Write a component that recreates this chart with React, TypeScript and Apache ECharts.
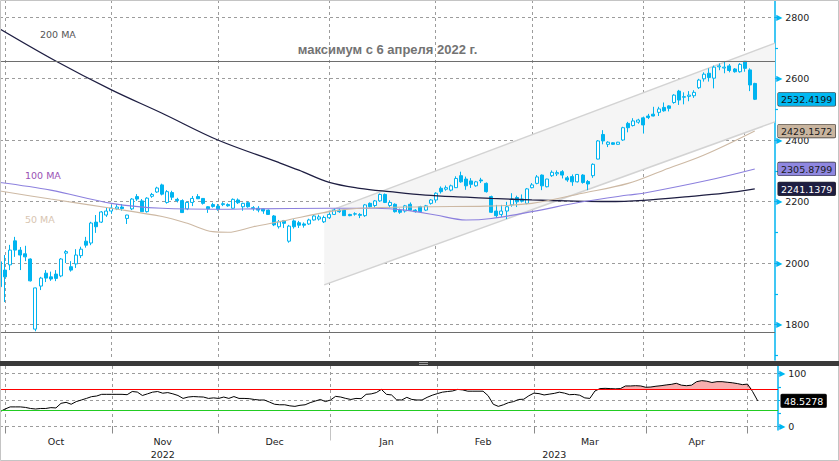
import React, { useEffect, useRef } from 'react';
import * as echarts from 'echarts';

// ---- trading days (category axis) ----
const sepDays = [30];
const octDays = [3, 4, 5, 6, 7, 10, 11, 12, 13, 14, 17, 18, 19, 20, 21, 24, 25, 26, 27, 28, 31];
const novDays = [1, 2, 3, 7, 8, 9, 10, 11, 14, 15, 16, 17, 18, 21, 22, 23, 24, 25, 28, 29, 30];
const decDays = [1, 2, 5, 6, 7, 8, 9, 12, 13, 14, 15, 16, 19, 20, 21, 22, 23, 26, 27, 28, 29, 30];
const janDays = [3, 4, 5, 6, 9, 10, 11, 12, 13, 16, 17, 18, 19, 20, 23, 24, 25, 26, 27, 30, 31];
const febDays = [1, 2, 3, 6, 7, 8, 9, 10, 13, 14, 15, 16, 17, 20, 21, 22, 24, 27, 28];
const marDays = [1, 2, 3, 6, 7, 9, 10, 13, 14, 15, 16, 17, 20, 21, 22, 23, 24, 27, 28, 29, 30, 31];
const aprDays = [3, 4, 5, 6, 7, 10, 11, 12, 13, 14, 17, 18, 19, 20, 21, 24, 25, 26, 27, 28];
const mayDays = [2, 3, 4];
const padDays = [5, 10, 11, 12]; // empty slots on the right (May 2023)

const monthNames = ['Oct', 'Nov', 'Dec', 'Jan', 'Feb', 'Mar', 'Apr'];
const monthLabelIdx = [11, 32, 54, 76, 95, 116, 137];
const yearLabels = ['2022', '2023'];
const yearLabelIdx = [32, 109];
const yearSplitIdx = 65;

// ---- OHLC: [open, close, low, high] ----
const candles: number[][] = [
  [2004, 1923, 1915, 2010], [1977, 1955, 1873, 2026], [1994, 2042, 1977, 2059], [2072, 2042, 2020, 2085],
  [2042, 2026, 1977, 2052], [2030, 2020, 2006, 2056], [2013, 1942, 1940, 2015], [1785, 1919, 1778, 1920],
  [1925, 1951, 1912, 1955], [1967, 1951, 1938, 1977], [1955, 1948, 1942, 1972], [1964, 1950, 1941, 1977],
  [1958, 2013, 1954, 2016], [2032, 2037, 2000, 2042], [1988, 1977, 1972, 2006], [1997, 2026, 1984, 2045],
  [2024, 2045, 2016, 2053], [2071, 2058, 2050, 2085], [2065, 2130, 2058, 2134], [2133, 2118, 2098, 2156],
  [2133, 2166, 2130, 2169], [2156, 2169, 2150, 2179], [2169, 2179, 2160, 2189], [2176, 2182, 2172, 2192],
  [2182, 2177, 2170, 2192], [2145, 2156, 2127, 2157], [2176, 2208, 2172, 2211], [2216, 2208, 2202, 2224],
  [2202, 2167, 2166, 2208], [2167, 2211, 2164, 2214], [2217, 2223, 2212, 2228], [2231, 2244, 2228, 2248],
  [2254, 2224, 2220, 2258], [2197, 2232, 2193, 2237], [2229, 2214, 2205, 2235], [2207, 2203, 2197, 2212],
  [2203, 2164, 2163, 2207], [2176, 2197, 2172, 2200], [2197, 2210, 2185, 2218], [2216, 2209, 2208, 2224],
  [2210, 2194, 2190, 2211], [2183, 2176, 2163, 2185], [2190, 2184, 2180, 2196], [2185, 2175, 2170, 2192],
  [2190, 2193, 2185, 2198], [2190, 2186, 2183, 2194], [2178, 2207, 2177, 2210], [2205, 2196, 2192, 2210],
  [2183, 2194, 2170, 2196], [2196, 2183, 2180, 2200], [2180, 2177, 2170, 2185], [2178, 2172, 2165, 2185],
  [2176, 2169, 2160, 2177], [2172, 2158, 2157, 2174], [2153, 2124, 2120, 2156], [2118, 2134, 2112, 2140],
  [2138, 2129, 2114, 2140], [2071, 2120, 2066, 2124], [2137, 2118, 2112, 2142], [2131, 2123, 2114, 2137],
  [2127, 2123, 2115, 2132], [2127, 2140, 2124, 2144], [2140, 2153, 2138, 2157], [2143, 2150, 2138, 2157],
  [2134, 2148, 2130, 2154], [2147, 2158, 2143, 2165], [2158, 2172, 2156, 2177], [2172, 2167, 2163, 2177],
  [2172, 2154, 2154, 2175], [2158, 2154, 2152, 2160], [2160, 2159, 2154, 2165], [2158, 2155, 2146, 2162],
  [2154, 2189, 2150, 2192], [2194, 2183, 2180, 2197], [2187, 2202, 2180, 2205], [2202, 2223, 2199, 2226],
  [2223, 2197, 2195, 2226], [2187, 2197, 2180, 2204], [2191, 2167, 2164, 2194], [2172, 2165, 2160, 2177],
  [2169, 2186, 2164, 2189], [2191, 2172, 2169, 2197], [2172, 2167, 2164, 2175], [2183, 2167, 2164, 2186],
  [2172, 2186, 2169, 2189], [2194, 2205, 2190, 2208], [2205, 2227, 2196, 2230], [2243, 2232, 2226, 2249],
  [2240, 2245, 2235, 2252], [2237, 2251, 2233, 2255], [2245, 2275, 2244, 2282], [2284, 2264, 2261, 2297],
  [2273, 2251, 2238, 2281], [2267, 2256, 2244, 2276], [2251, 2264, 2248, 2267], [2270, 2267, 2260, 2277],
  [2259, 2232, 2229, 2262], [2216, 2165, 2163, 2219], [2169, 2154, 2147, 2189], [2158, 2169, 2150, 2189],
  [2169, 2183, 2143, 2199], [2189, 2208, 2183, 2227], [2213, 2199, 2182, 2219], [2208, 2201, 2197, 2223],
  [2194, 2241, 2191, 2244], [2245, 2254, 2243, 2260], [2259, 2280, 2256, 2286], [2286, 2251, 2237, 2288],
  [2248, 2273, 2246, 2274], [2284, 2295, 2280, 2301], [2290, 2294, 2283, 2301], [2297, 2286, 2275, 2302],
  [2277, 2270, 2264, 2283], [2281, 2264, 2251, 2288], [2264, 2288, 2262, 2289], [2286, 2262, 2258, 2289],
  [2265, 2257, 2237, 2270], [2284, 2321, 2277, 2324], [2338, 2397, 2337, 2400], [2418, 2397, 2386, 2432],
  [2386, 2393, 2377, 2396], [2391, 2386, 2384, 2393], [2386, 2393, 2385, 2394], [2400, 2440, 2397, 2443],
  [2454, 2440, 2425, 2459], [2447, 2462, 2444, 2471], [2458, 2465, 2453, 2469], [2472, 2449, 2421, 2476],
  [2478, 2473, 2468, 2485], [2484, 2478, 2477, 2508], [2490, 2501, 2478, 2508], [2506, 2495, 2492, 2522],
  [2511, 2503, 2493, 2513], [2522, 2546, 2518, 2549], [2559, 2530, 2514, 2563], [2539, 2541, 2516, 2555],
  [2542, 2546, 2526, 2559], [2544, 2555, 2537, 2562], [2570, 2595, 2566, 2599], [2599, 2614, 2590, 2620],
  [2617, 2603, 2590, 2633], [2601, 2637, 2568, 2642], [2638, 2641, 2627, 2649], [2634, 2637, 2617, 2657],
  [2641, 2626, 2620, 2647], [2631, 2622, 2619, 2634], [2622, 2646, 2619, 2650], [2656, 2633, 2622, 2657],
  [2628, 2579, 2559, 2633], [2584, 2532.4199, 2530, 2586],
];

// ---- moving averages: [category index, value] ----
const ma50Pts = [
  [0, 2234], [10, 2208], [22, 2178], [32, 2151], [37, 2129], [42, 2102], [45, 2100], [50, 2118], [56, 2137],
  [65, 2167], [71, 2178], [84, 2183], [96, 2185], [105, 2194], [115, 2227], [124, 2259], [131, 2302],
  [139, 2351], [149, 2429.1572],
];
const ma100Pts = [
  [0, 2262], [10, 2237], [22, 2194], [32, 2178], [44, 2175], [50, 2176], [65, 2178], [74, 2178], [80, 2172],
  [86, 2156], [92, 2140], [97, 2145], [105, 2167], [115, 2199], [124, 2221], [127, 2227], [140, 2270],
  [149, 2305.8799],
];
const ma200Pts = [
  [0, 2761], [11, 2657], [22, 2563], [32, 2487], [43, 2400], [55, 2327], [59, 2302], [65, 2262], [71, 2243],
  [77, 2232], [84, 2221], [92, 2214], [97, 2210], [105, 2205], [112, 2202], [120, 2200], [127, 2204],
  [136, 2216], [143, 2227], [149, 2241.1379],
];

// ---- trend channel ----
const chanLower = [[64, 1929], [153, 2459]];
const chanUpper = [[64, 2163], [153, 2715]];

// ---- horizontal levels ----
const maxLevel = 2657;
const minLevel = 1776;
const maxLabel = 'максимум с 6 апреля 2022 г.';

// ---- RSI ----
const rsi = [
  28, 33, 37, 37, 37, 36, 34, 33, 34, 34,
  35.6, 35, 43.7, 45.6, 42, 47, 50, 53, 56.3, 57.5,
  60.7, 60.7, 60.7, 60.7, 60.7, 60, 66, 65, 58.5, 61.6,
  64.8, 66, 62.8, 64, 61.6, 58.5, 53, 55.6, 56.5, 56,
  55.6, 53, 54, 53, 55.6, 53, 56.5, 53, 53, 52.5,
  51, 50, 50, 46, 42, 41, 41, 39, 38, 40,
  41, 45, 48, 51, 47, 50, 56.9, 55.6, 53, 51,
  53, 52.5, 60.7, 61.5, 64, 70, 60.7, 59.5, 50.3, 50,
  55, 51, 50, 50, 55, 59, 62, 64.8, 66, 67,
  70, 69, 66.6, 66.6, 66.6, 66.6, 58, 42, 38, 41,
  45, 47, 51, 51.5, 58, 63, 62, 59.5, 61, 62.5,
  64.8, 63, 60, 60.5, 59, 54, 53, 67, 71.5, 72,
  71.5, 71, 71.5, 76.5, 76.5, 77, 76.5, 74, 74.5, 76,
  77, 78.4, 79.5, 81.5, 78, 77, 78, 84.6, 86.5, 85.5,
  83, 84.6, 84.6, 83.5, 82.5, 81, 79, 80, 66, 48.5278,
];
const rsiHigh = 70;
const rsiLow = 30;

// ---- last-value tags ----
const priceTags = [2532.4199, 2429.1572, 2305.8799, 2241.1379];
const priceTagStyles = ['cl', 'm50', 'm100', 'm200'];
const rsiTags = [48.5278];

const mainLabels = [1800, 2000, 2200, 2400, 2600, 2800];
const mainMinor = [1700, 1900, 2100, 2300, 2500, 2700];
const rsiLabels = [0, 100];
const rsiGrid = [0, 50, 100];
const rsiMinor = [25, 75];

// ---- build categories ----
const monthParts: [number, number, number[]][] = [
  [2022, 9, sepDays], [2022, 10, octDays], [2022, 11, novDays], [2022, 12, decDays],
  [2023, 1, janDays], [2023, 2, febDays], [2023, 3, marDays], [2023, 4, aprDays],
  [2023, 5, mayDays], [2023, 5, padDays],
];
const pad2 = (n: number) => String(n).padStart(2, '0');
const categories: string[] = monthParts.flatMap(([y, m, days]) => days.map((d) => `${y}-${pad2(m)}-${pad2(d)}`));
const monthStarts = new Set<number>();
categories.forEach((c, i) => {
  if (i > 0 && c.slice(0, 7) !== categories[i - 1].slice(0, 7)) monthStarts.add(i);
});

const CYAN = '#00b4f0';
const FONT = 'DejaVu Sans';
const DASH = { color: '#9c9c9c', type: [3, 3] as number[], width: 1 };

const tagBox = (bg: string, fg: string) => ({
  backgroundColor: bg,
  color: fg,
  fontSize: 9.5,
  fontFamily: FONT,
  padding: [2, 3, 1, 3],
  borderColor: '#333',
  borderWidth: 0.6,
  borderRadius: 1,
});
const tagRich = {
  cl: tagBox('#00b8f2', '#111111'),
  m50: tagBox('#c9b59f', '#1a1a1a'),
  m100: tagBox('#8f87e0', '#1a1a1a'),
  m200: tagBox('#1e1e42', '#ffffff'),
  rsi: tagBox('#000000', '#ffffff'),
};
const priceTagFmt = (v: number) => {
  let k = 0;
  priceTags.forEach((t, i) => { if (Math.abs(t - v) < 1e-3) k = i; });
  return `{${priceTagStyles[k]}|${v.toFixed(4)}}`;
};

const axisLabelRich = {
  t: { color: CYAN, fontSize: 8, fontFamily: FONT, padding: [0, 3, 0, 0] },
  v: { color: '#222', fontSize: 9.5, fontFamily: FONT },
};

const MAIN_MIN = 1684.6;
const MAIN_MAX = 2855.3;
const RSI_MIN = -6.6;
const RSI_MAX = 114.15;

const tickOnlyAxis = (grid: number, min: number, max: number, vals: number[]) => ({
  type: 'value', gridIndex: grid, position: 'right', min, max,
  axisLine: { show: false },
  axisTick: { show: true, customValues: vals, length: 3, lineStyle: { color: CYAN, width: 1.2 } },
  axisLabel: { show: false }, splitLine: { show: false },
});
const tagAxis = (grid: number, min: number, max: number, vals: number[], fmt: (v: number) => string) => ({
  type: 'value', gridIndex: grid, position: 'right', min, max,
  axisLine: { show: false },
  axisTick: { show: false, customValues: vals },
  axisLabel: { show: true, customValues: vals, margin: 3, formatter: fmt, rich: tagRich },
  splitLine: { show: false },
});

const option: any = {
  animation: false,
  textStyle: { fontFamily: FONT },
  grid: [
    { left: 0, right: 61, top: 0, height: 360 },
    { left: 0, right: 61, top: 366, height: 64 },
  ],
  xAxis: [
    {
      type: 'category', gridIndex: 0, data: categories, boundaryGap: false,
      axisLine: { show: false }, axisTick: { show: false }, axisLabel: { show: false },
      splitLine: { show: true, interval: (i: number) => monthStarts.has(i), lineStyle: DASH },
    },
    {
      type: 'category', gridIndex: 1, data: categories, boundaryGap: false,
      axisLine: { show: false },
      axisTick: { show: true, interval: (i: number) => monthStarts.has(i), length: 7, lineStyle: { color: '#8a8a8a' } },
      axisLabel: {
        interval: (i: number) => monthLabelIdx.includes(i),
        formatter: (_v: string, i: number) => monthNames[monthLabelIdx.indexOf(i)] ?? '',
        color: '#222', fontSize: 9.5, fontFamily: FONT, margin: 6,
      },
      splitLine: { show: true, interval: (i: number) => monthStarts.has(i), lineStyle: DASH },
    },
    {
      type: 'category', gridIndex: 1, data: categories, boundaryGap: false, position: 'bottom', offset: 17,
      axisLine: { show: false },
      axisTick: { show: true, interval: (i: number) => i === yearSplitIdx, length: 14, lineStyle: { color: '#c4c4c4' } },
      axisLabel: {
        interval: (i: number) => yearLabelIdx.includes(i),
        formatter: (_v: string, i: number) => yearLabels[yearLabelIdx.indexOf(i)] ?? '',
        color: '#222', fontSize: 9.5, fontFamily: FONT, margin: 2,
      },
      splitLine: { show: false },
    },
  ],
  yAxis: [
    {
      type: 'value', gridIndex: 0, position: 'right', min: MAIN_MIN, max: MAIN_MAX,
      axisLine: { show: true, lineStyle: { color: CYAN, width: 1.5 } },
      axisTick: { show: true, customValues: mainLabels, length: 2, lineStyle: { color: CYAN } },
      axisLabel: { customValues: mainLabels, margin: 1, formatter: (v: number) => `{t|▶}{v|${v}}`, rich: axisLabelRich },
      splitLine: { show: true, lineStyle: DASH },
    },
    tickOnlyAxis(0, MAIN_MIN, MAIN_MAX, mainMinor),
    {
      type: 'value', gridIndex: 1, position: 'right', min: RSI_MIN, max: RSI_MAX,
      axisLine: { show: true, lineStyle: { color: CYAN, width: 1.5 } },
      axisTick: { show: true, customValues: rsiGrid, length: 2, lineStyle: { color: CYAN } },
      axisLabel: { customValues: rsiLabels, margin: 1, formatter: (v: number) => `{t|▶}{v|${v}}`, rich: axisLabelRich },
      splitLine: { show: true, lineStyle: DASH },
    },
    tickOnlyAxis(1, RSI_MIN, RSI_MAX, rsiMinor),
    tagAxis(0, MAIN_MIN, MAIN_MAX, priceTags, priceTagFmt),
    tagAxis(1, RSI_MIN, RSI_MAX, rsiTags, (v: number) => `{rsi|${v.toFixed(4)}}`),
  ],
  series: [
    {
      name: 'chanLow', type: 'line', xAxisIndex: 0, yAxisIndex: 0, data: chanLower, stack: 'ch',
      symbol: 'none', lineStyle: { color: '#d3d3d3', width: 1.5 }, z: 1, silent: true,
    },
    {
      name: 'chanHigh', type: 'line', xAxisIndex: 0, yAxisIndex: 0,
      data: chanUpper.map((p, k) => [p[0], p[1] - chanLower[k][1]]), stack: 'ch',
      symbol: 'none', lineStyle: { color: '#d3d3d3', width: 1.5 },
      areaStyle: { color: '#f5f5f5', opacity: 1 }, z: 1, silent: true,
    },
    {
      name: 'MA200', type: 'line', xAxisIndex: 0, yAxisIndex: 0, data: ma200Pts, symbol: 'none', smooth: 0.35,
      lineStyle: { color: '#1e1e42', width: 1.3 }, silent: true,
    },
    {
      name: 'MA100', type: 'line', xAxisIndex: 0, yAxisIndex: 0, data: ma100Pts, symbol: 'none', smooth: 0.35,
      lineStyle: { color: '#8c80de', width: 1.1 }, silent: true,
    },
    {
      name: 'MA50', type: 'line', xAxisIndex: 0, yAxisIndex: 0, data: ma50Pts, symbol: 'none', smooth: 0.35,
      lineStyle: { color: '#cdb9a4', width: 1.1 }, silent: true,
    },
    {
      name: 'price', type: 'candlestick', xAxisIndex: 0, yAxisIndex: 0, data: candles, barWidth: 3.5,
      silent: true,
      itemStyle: { color: '#ffffff', color0: CYAN, borderColor: CYAN, borderColor0: CYAN, borderWidth: 1 },
      markLine: {
        silent: true, symbol: ['none', 'none'],
        data: [
          {
            yAxis: maxLevel,
            lineStyle: { color: '#6e6e6e', width: 1.2, type: 'solid' },
            label: {
              show: true, position: 'insideMiddleTop', distance: 5, formatter: maxLabel,
              color: '#737373', fontWeight: 'bold', fontSize: 13, fontFamily: 'Liberation Sans',
            },
          },
          { yAxis: minLevel, lineStyle: { color: '#6e6e6e', width: 1.2, type: 'solid' }, label: { show: false } },
        ],
      },
    },
    {
      name: 'rsiBase', type: 'line', xAxisIndex: 1, yAxisIndex: 2, data: rsi.map(() => rsiHigh), stack: 'ob',
      symbol: 'none', lineStyle: { opacity: 0, width: 0 }, silent: true,
    },
    {
      name: 'rsiOver', type: 'line', xAxisIndex: 1, yAxisIndex: 2, data: rsi.map((v) => Math.max(v - rsiHigh, 0)),
      stack: 'ob', symbol: 'none', lineStyle: { opacity: 0, width: 0 },
      areaStyle: { color: 'rgba(240,96,96,0.5)', opacity: 1 }, silent: true,
    },
    {
      name: 'RSI', type: 'line', xAxisIndex: 1, yAxisIndex: 2, data: rsi, symbol: 'none',
      lineStyle: { color: '#000000', width: 1 }, silent: true,
      markLine: {
        silent: true, symbol: ['none', 'none'],
        data: [
          { yAxis: rsiHigh, lineStyle: { color: '#ff0000', width: 1.2, type: 'solid' }, label: { show: false } },
          { yAxis: rsiLow, lineStyle: { color: '#22cc22', width: 1.2, type: 'solid' }, label: { show: false } },
        ],
      },
    },
  ],
  graphic: [
    { type: 'rect', z: 100, silent: true, shape: { x: 0.5, y: 0.5, width: 838, height: 460 }, style: { fill: 'none', stroke: '#c4c4c4', lineWidth: 1 } },
    { type: 'rect', z: 100, silent: true, shape: { x: 0, y: 361, width: 839, height: 5 }, style: { fill: '#3a3a3a' } },
    { type: 'line', z: 101, silent: true, shape: { x1: 419, y1: 362.5, x2: 428, y2: 362.5 }, style: { stroke: '#a0a0a0', lineWidth: 1 } },
    { type: 'line', z: 101, silent: true, shape: { x1: 419, y1: 364.5, x2: 428, y2: 364.5 }, style: { stroke: '#a0a0a0', lineWidth: 1 } },
    { type: 'text', z: 100, silent: true, x: 40, y: 34, style: { text: '200 MA', fill: '#555555', font: `9.5px "${FONT}"`, verticalAlign: 'middle' } },
    { type: 'text', z: 100, silent: true, x: 25, y: 175, style: { text: '100 MA', fill: '#9a52b4', font: `9.5px "${FONT}"`, verticalAlign: 'middle' } },
    { type: 'text', z: 100, silent: true, x: 25, y: 219, style: { text: '50 MA', fill: '#d8c5b1', font: `9.5px "${FONT}"`, verticalAlign: 'middle' } },
  ],
};

export default function App() {
  const ref = useRef<HTMLDivElement>(null);
  useEffect(() => {
    document.body.style.margin = '0';
    if (!ref.current) return;
    const chart = echarts.init(ref.current, null, { renderer: 'svg' });
    chart.setOption(option);
    return () => chart.dispose();
  }, []);
  return <div ref={ref} style={{ width: 839, height: 461 }} />;
}
